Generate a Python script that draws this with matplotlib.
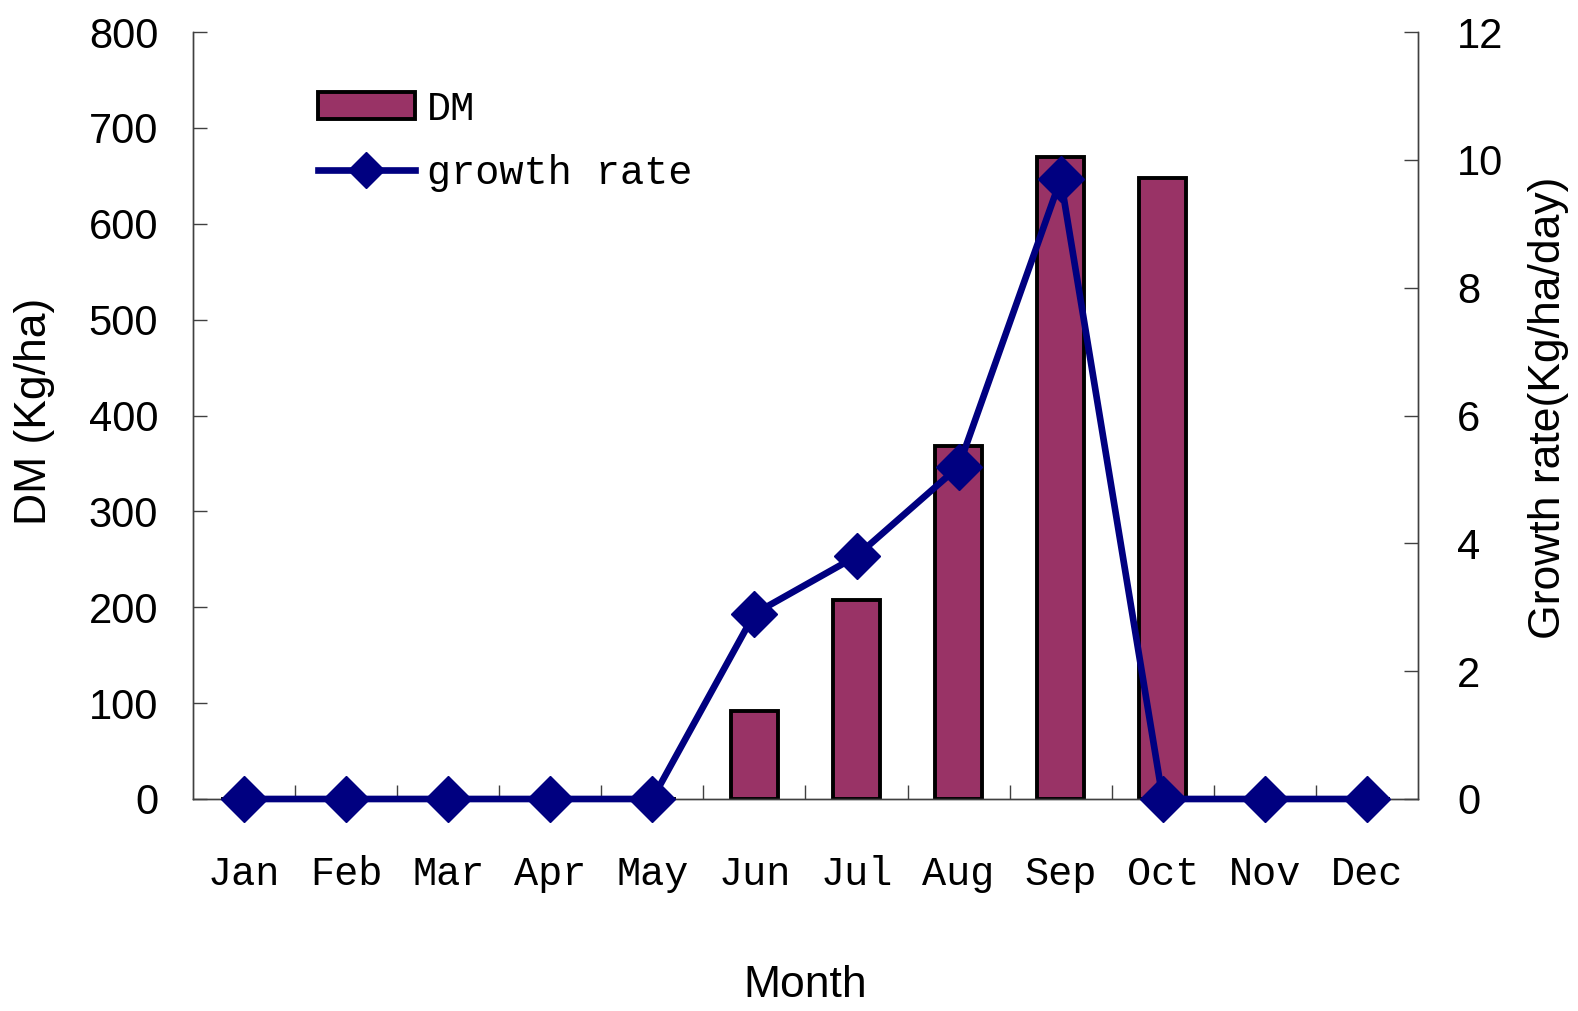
import matplotlib
matplotlib.use('Agg')
import matplotlib.pyplot as plt
import numpy as np

# Data
months = ['Jan', 'Feb', 'Mar', 'Apr', 'May', 'Jun',
          'Jul', 'Aug', 'Sep', 'Oct', 'Nov', 'Dec']
dm = [0, 0, 0, 0, 0, 92, 208, 368, 670, 648, 0, 0]
growth_rate = [0, 0, 0, 0, 0, 2.9, 3.8, 5.2, 9.7, 0, 0, 0]

mono = ['Liberation Mono', 'DejaVu Sans Mono']
sans = ['Liberation Sans', 'DejaVu Sans']
plt.rcParams['font.family'] = sans

fig = plt.figure(figsize=(15.78, 10.11), dpi=100)
ax = fig.add_axes([0.1223, 0.2097, 0.7763, 0.7586])
ax2 = ax.twinx()

x = np.arange(len(months))

# Bars (left axis)
ax.bar(x, dm, width=0.46, color='#993366', edgecolor='black',
       linewidth=2.8, label='DM', zorder=2)

# Line (right axis), markers at zero must not be clipped
ax2.plot(x, growth_rate, color='#000080', linewidth=4.8, marker='D',
         markersize=23, label='growth rate', zorder=3, clip_on=False)

ax.set_xlim(-0.5, 11.5)
ax.set_ylim(0, 800)
ax2.set_ylim(0, 12)
ax.set_yticks(range(0, 801, 100))
ax2.set_yticks(range(0, 13, 2))

# Ticks
spine_col = '#404040'
ax.set_xticks(x)
ax.set_xticklabels(months, fontsize=29, family=mono)
ax.set_xticks(np.arange(0.5, 11, 1), minor=True)
ax.tick_params(axis='x', which='major', length=0, pad=40)
ax.tick_params(axis='x', which='minor', direction='in', length=10,
               width=1, color=spine_col)
ax.tick_params(axis='y', direction='in', length=10, width=1,
               color=spine_col, labelsize=30, pad=25)
ax2.tick_params(axis='y', direction='in', length=10, width=1,
                color=spine_col, labelsize=30, pad=28)

for a in (ax, ax2):
    a.spines['top'].set_visible(False)
    for s in ('left', 'right', 'bottom'):
        a.spines[s].set_color(spine_col)
        a.spines[s].set_linewidth(1)

# Axis labels
fig.text(0.022, 0.593, 'DM (Kg/ha)', rotation=90, ha='center', va='center',
         fontsize=32)
fig.text(0.981, 0.597, 'Growth rate(Kg/ha/day)', rotation=90, ha='center',
         va='center', fontsize=32)
fig.text(0.51, 0.025, 'Month', ha='center', va='center', fontsize=32)

# Legend
h1, l1 = ax.get_legend_handles_labels()
h2, l2 = ax2.get_legend_handles_labels()
leg = ax2.legend(h1 + h2, l1 + l2, loc='upper left',
                 bbox_to_anchor=(0.102, 0.925), frameon=False,
                 prop={'family': mono, 'size': 29},
                 handlelength=2.4, handleheight=0.65, handletextpad=0.3,
                 labelspacing=0.65, borderpad=0, borderaxespad=0,
                 numpoints=1)
leg.legend_handles[1].set_markersize(18)

fig.savefig('out.png', dpi=100)
